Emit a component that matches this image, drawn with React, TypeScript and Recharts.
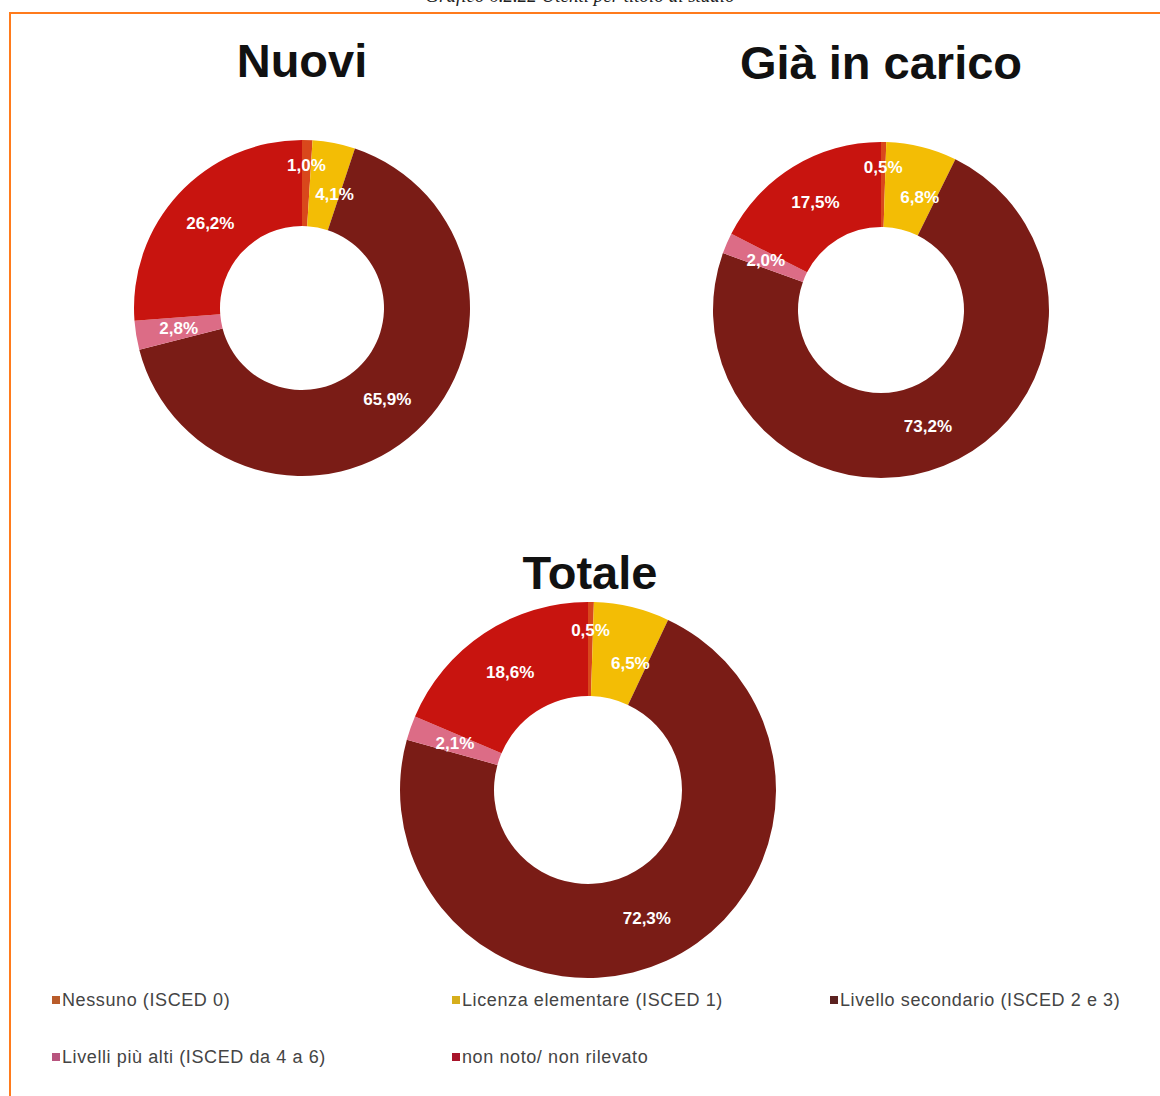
import { PieChart, Pie, Cell, Legend } from "recharts";

// categorie e valori (%)
const categories = [
  "Nessuno (ISCED 0)",
  "Licenza elementare (ISCED 1)",
  "Livello secondario (ISCED 2 e 3)",
  "Livelli più alti (ISCED da 4 a 6)",
  "non noto/ non rilevato",
];
const nuovi = [1.0, 4.1, 65.9, 2.8, 26.2];
const giaInCarico = [0.5, 6.8, 73.2, 2.0, 17.5];
const totale = [0.5, 6.5, 72.3, 2.1, 18.6];
const titles = ["Nuovi", "Già in carico", "Totale"];

const COLORS = ["#d9481c", "#f3bd05", "#7a1c16", "#dc6c86", "#c8140f"];
const SWATCH = ["#b95c2a", "#d6ae1c", "#5c2220", "#b8557e", "#a8142a"];

const toRows = (values: number[]) =>
  categories.map((name, i) => ({ name, value: values[i] }));

const RAD = Math.PI / 180;

function makeLabel(values: number[]) {
  return (props: any) => {
    const { cx, cy, midAngle, innerRadius, outerRadius, index, value } = props;
    let frac = 0.5;
    let angle = midAngle;
    // slice piccolissima in alto: etichetta spinta verso l'esterno
    if (values[index] < 2 && index === 0) frac = 0.7;
    if (index === 1 && values[0] < 2) {
      frac = 0.42;
      angle = midAngle - 5;
    }
    const r = innerRadius + (outerRadius - innerRadius) * frac;
    const x = cx + r * Math.cos(-angle * RAD);
    const y = cy + r * Math.sin(-angle * RAD);
    return (
      <text
        x={x}
        y={y}
        fill="#ffffff"
        textAnchor="middle"
        dominantBaseline="central"
        style={{ fontFamily: "Liberation Sans, Arial, sans-serif", fontWeight: 700, fontSize: 17 }}
      >
        {value.toFixed(1).replace(".", ",") + "%"}
      </text>
    );
  };
}

function LegendGrid() {
  return (
    <div
      style={{
        display: "grid",
        gridTemplateColumns: "400px 378px 330px",
        gridAutoRows: "57px",
        paddingLeft: 52,
        fontFamily: "Liberation Sans, Arial, sans-serif",
        fontSize: 18,
        letterSpacing: 0.6,
        color: "#444444",
      }}
    >
      {categories.map((c, i) => (
        <div key={c} style={{ display: "flex", alignItems: "center", height: 30, whiteSpace: "nowrap" }}>
          <span
            style={{
              width: 8,
              height: 8,
              background: SWATCH[i],
              marginRight: 2,
              display: "inline-block",
              flexShrink: 0,
            }}
          />
          {c}
        </div>
      ))}
    </div>
  );
}

const pies = [
  { values: nuovi, cx: 302, cy: 308, inner: 82, outer: 168 },
  { values: giaInCarico, cx: 881, cy: 310, inner: 83, outer: 168 },
  { values: totale, cx: 588, cy: 790, inner: 94, outer: 188 },
];

const titlePos = [
  { x: 302, y: 35 },
  { x: 881, y: 37 },
  { x: 590, y: 547 },
];

export default function App() {
  return (
    <div
      style={{
        position: "absolute",
        left: 0,
        top: 0,
        width: 1160,
        height: 1096,
        overflow: "hidden",
        background: "#ffffff",
      }}
    >
      <div
        style={{
          position: "absolute",
          top: -15,
          left: 0,
          width: 1160,
          textAlign: "center",
          fontFamily: "Liberation Serif, 'Times New Roman', serif",
          fontStyle: "italic",
          fontSize: 19,
          color: "#222",
        }}
      >
        Grafico 6.2.22 Utenti per titolo di studio
      </div>
      <div
        style={{
          position: "absolute",
          top: 12,
          left: 9,
          width: 1200,
          height: 1200,
          border: "2px solid #ff7b1c",
        }}
      />
      {titles.map((t, i) => (
        <div
          key={t}
          style={{
            position: "absolute",
            left: titlePos[i].x - 200,
            top: titlePos[i].y,
            width: 400,
            textAlign: "center",
            fontFamily: "Liberation Sans, Arial, sans-serif",
            fontWeight: 700,
            fontSize: 47,
            lineHeight: "52px",
            color: "#111",
          }}
        >
          {t}
        </div>
      ))}
      <div style={{ position: "absolute", left: 0, top: 0 }}>
        <PieChart width={1160} height={1096} margin={{ top: 0, right: 0, bottom: 0, left: 0 }}>
          {pies.map((p, k) => (
            <Pie
              key={k}
              data={toRows(p.values)}
              dataKey="value"
              nameKey="name"
              cx={p.cx}
              cy={p.cy}
              innerRadius={p.inner}
              outerRadius={p.outer}
              startAngle={90}
              endAngle={-270}
              stroke="none"
              labelLine={false}
              label={makeLabel(p.values)}
              isAnimationActive={false}
            >
              {p.values.map((_, i) => (
                <Cell key={i} fill={COLORS[i]} />
              ))}
            </Pie>
          ))}
          <Legend
            content={<LegendGrid />}
            wrapperStyle={{ position: "absolute", left: 0, top: 985, width: 1160, bottom: "auto" }}
          />
        </PieChart>
      </div>
    </div>
  );
}
